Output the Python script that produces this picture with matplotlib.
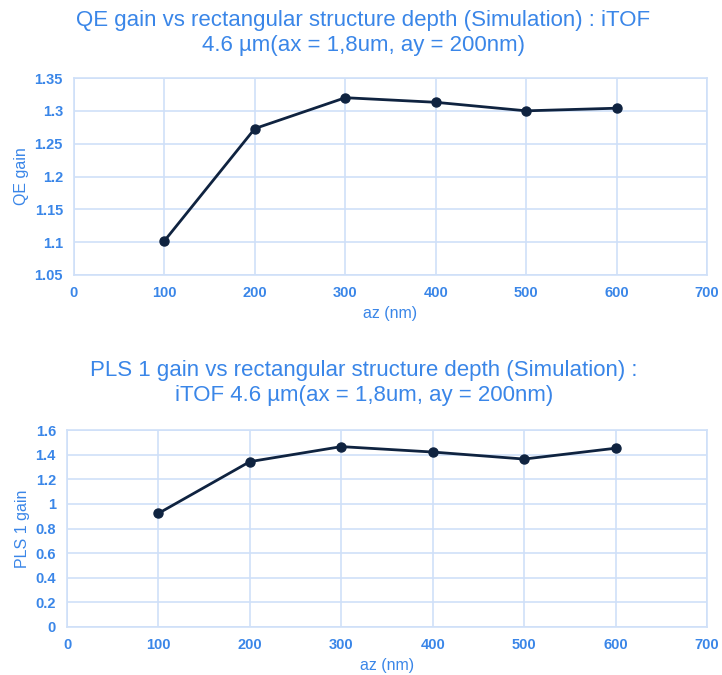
import matplotlib
matplotlib.use("Agg")
import matplotlib.pyplot as plt

plt.rcParams["font.family"] = ["Liberation Sans", "DejaVu Sans"]

TEXT_BLUE = "#3a86e8"
GRID_BLUE = "#cfe0f8"
LINE_NAVY = "#0f2340"

depth_nm = [100, 200, 300, 400, 500, 600]
qe_gain = [1.102, 1.273, 1.320, 1.313, 1.300, 1.304]
pls1_gain = [0.923, 1.343, 1.465, 1.421, 1.364, 1.452]

qe_yticks = [1.05, 1.1, 1.15, 1.2, 1.25, 1.3, 1.35]
qe_ylabels = ["1.05", "1.1", "1.15", "1.2", "1.25", "1.3", "1.35"]
pls_yticks = [0, 0.2, 0.4, 0.6, 0.8, 1.0, 1.2, 1.4, 1.6]
pls_ylabels = ["0", "0.2", "0.4", "0.6", "0.8", "1", "1.2", "1.4", "1.6"]
xticks = [0, 100, 200, 300, 400, 500, 600, 700]

W, H = 722, 675
fig = plt.figure(figsize=(W / 100, H / 100), dpi=100)


def px_axes(left, top, right, bottom):
    return fig.add_axes([left / W, 1 - bottom / H, (right - left) / W, (bottom - top) / H])


def style(ax, values, yticks, ylabels, ylim, ylabel):
    ax.plot(depth_nm, values, color=LINE_NAVY, lw=2, marker="o", ms=6.5, zorder=3)
    ax.set_xlim(0, 700)
    ax.set_ylim(*ylim)
    ax.set_xticks(xticks)
    ax.set_yticks(yticks)
    ax.set_yticklabels(ylabels)
    ax.grid(True, color=GRID_BLUE, lw=1.2)
    ax.set_axisbelow(True)
    for s in ax.spines.values():
        s.set_color(GRID_BLUE)
        s.set_linewidth(1.2)
    ax.tick_params(length=0, labelsize=10.5, labelcolor=TEXT_BLUE, pad=8)
    for lbl in ax.get_xticklabels() + ax.get_yticklabels():
        lbl.set_fontweight("bold")
    ax.set_xlabel("az (nm)", color=TEXT_BLUE, fontsize=11.5, labelpad=4)
    ax.set_ylabel(ylabel, color=TEXT_BLUE, fontsize=11.5, labelpad=4)


ax1 = px_axes(74, 78, 707, 275)
style(ax1, qe_gain, qe_yticks, qe_ylabels, (1.05, 1.35), "QE gain")

ax2 = px_axes(67, 430, 707, 627)
style(ax2, pls1_gain, pls_yticks, pls_ylabels, (0, 1.6), "PLS 1 gain")

fig.text(363 / W, 1 - 33 / H,
         "QE gain vs rectangular structure depth (Simulation) : iTOF\n4.6 µm(ax = 1,8um, ay = 200nm)",
         ha="center", va="center", color=TEXT_BLUE, fontsize=16, linespacing=1.25)
fig.text(364 / W, 1 - 383 / H,
         "PLS 1 gain vs rectangular structure depth (Simulation) :\niTOF 4.6 µm(ax = 1,8um, ay = 200nm)",
         ha="center", va="center", color=TEXT_BLUE, fontsize=16, linespacing=1.25)

fig.savefig("out.png", dpi=100)
